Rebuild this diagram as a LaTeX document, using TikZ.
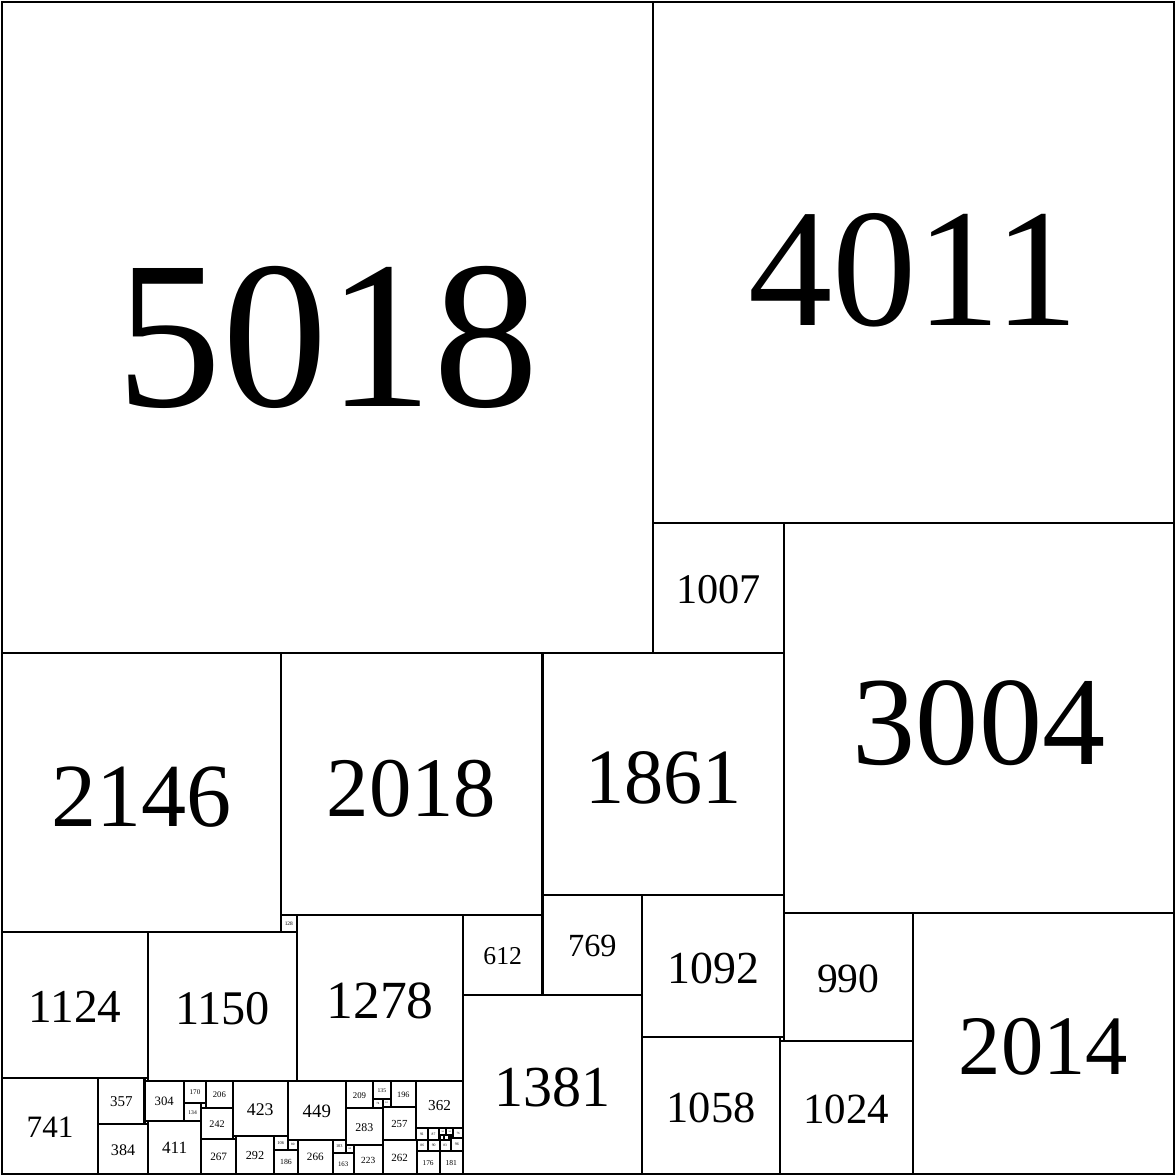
\documentclass[tikz,border=0pt]{standalone}
\usepackage{fontspec}
\setmainfont{Liberation Serif}

% name, left, top, side (one unit = one step of the square)
\newcommand{\tile}[4]{%
  \pgfmathsetmacro{\tilefs}{#4*0.0184}%
  \node[tile, minimum size=#4*0.002cm] (#1) at ({#2+#4/2},{#3+#4/2}) {};%
  \node[font=\fontsize{\tilefs pt}{\tilefs pt}\selectfont, inner sep=0pt]
    (#1-text) at ([yshift=-#4*0.000028cm]#1.center) {#4};%
}
\newcommand{\chip}[4]{%
  \node[tile, minimum size=#4*0.002cm] (#1) at ({#2+#4/2},{#3+#4/2}) {};%
}

\begin{document}
\begin{tikzpicture}[
  x=0.002cm, y=-0.002cm,
  tile/.style={
    draw=black,
    line width=0.9pt,
    inner sep=0pt,
    outer sep=0pt
  }
]
\useasboundingbox (-15,-15) rectangle (9044,9044);

\tile{s5018}{0}{0}{5018}
\tile{s4011}{5018}{0}{4011}
\tile{s1007}{5018}{4011}{1007}
\tile{s3004}{6025}{4011}{3004}
\tile{s2146}{0}{5018}{2146}
\tile{s2018}{2146}{5018}{2018}
\tile{s1861}{4164}{5018}{1861}
\tile{s128}{2146}{7036}{128}
\tile{s1124}{0}{7164}{1124}
\tile{s1150}{1124}{7164}{1150}
\tile{s1278}{2274}{7036}{1278}
\tile{s612}{3552}{7036}{612}
\tile{s769}{4164}{6879}{769}
\tile{s1381}{3552}{7648}{1381}
\tile{s1092}{4933}{6879}{1092}
\tile{s1058}{4933}{7971}{1058}
\tile{s990}{6025}{7015}{990}
\tile{s1024}{5991}{8005}{1024}
\tile{s2014}{7015}{7015}{2014}
\chip{c34}{5991}{7971}{34}

% bottom strip
\tile{s741}{0}{8288}{741}
\tile{s357}{741}{8288}{357}
\tile{s384}{741}{8645}{384}
\chip{c26}{1098}{8288}{26}
\tile{s304}{1098}{8314}{304}
\chip{c27}{1098}{8618}{27}
\tile{s411}{1125}{8618}{411}
\tile{s170}{1402}{8314}{170}
\tile{s134}{1402}{8484}{134}
\tile{s206}{1572}{8314}{206}
\chip{c36}{1536}{8484}{36}
\tile{s242}{1536}{8520}{242}
\tile{s267}{1536}{8762}{267}
\tile{s423}{1778}{8314}{423}
\chip{c25}{1778}{8737}{25}
\tile{s292}{1803}{8737}{292}
\tile{s449}{2201}{8314}{449}
\tile{s106}{2095}{8737}{106}
\tile{s80}{2201}{8763}{80}
\tile{s186}{2095}{8843}{186}
\tile{s266}{2281}{8763}{266}
\tile{s103}{2547}{8763}{103}
\tile{s163}{2547}{8866}{163}
\tile{s60}{2650}{8806}{60}
\tile{s209}{2650}{8314}{209}
\tile{s283}{2650}{8523}{283}
\tile{s223}{2710}{8806}{223}
\tile{s135}{2859}{8314}{135}
\tile{s74}{2859}{8449}{74}
\tile{s61}{2933}{8449}{61}
\tile{s196}{2994}{8314}{196}
\tile{s257}{2933}{8510}{257}
\tile{s262}{2933}{8767}{262}
\tile{s362}{3190}{8314}{362}
\tile{s91}{3190}{8676}{91}
\tile{s86}{3195}{8767}{86}
\tile{s87}{3281}{8676}{87}
\tile{s90}{3281}{8763}{90}
\tile{s176}{3195}{8853}{176}
\tile{s181}{3371}{8848}{181}
\tile{s76}{3476}{8676}{76}
\tile{s96}{3456}{8752}{96}
\tile{s83}{3373}{8765}{83}
\tile{s54a}{3368}{8676}{54}
\tile{s54b}{3422}{8676}{54}
\chip{c35a}{3371}{8730}{35}
\chip{c35b}{3406}{8730}{35}
\chip{c15}{3441}{8730}{15}

\end{tikzpicture}
\end{document}
